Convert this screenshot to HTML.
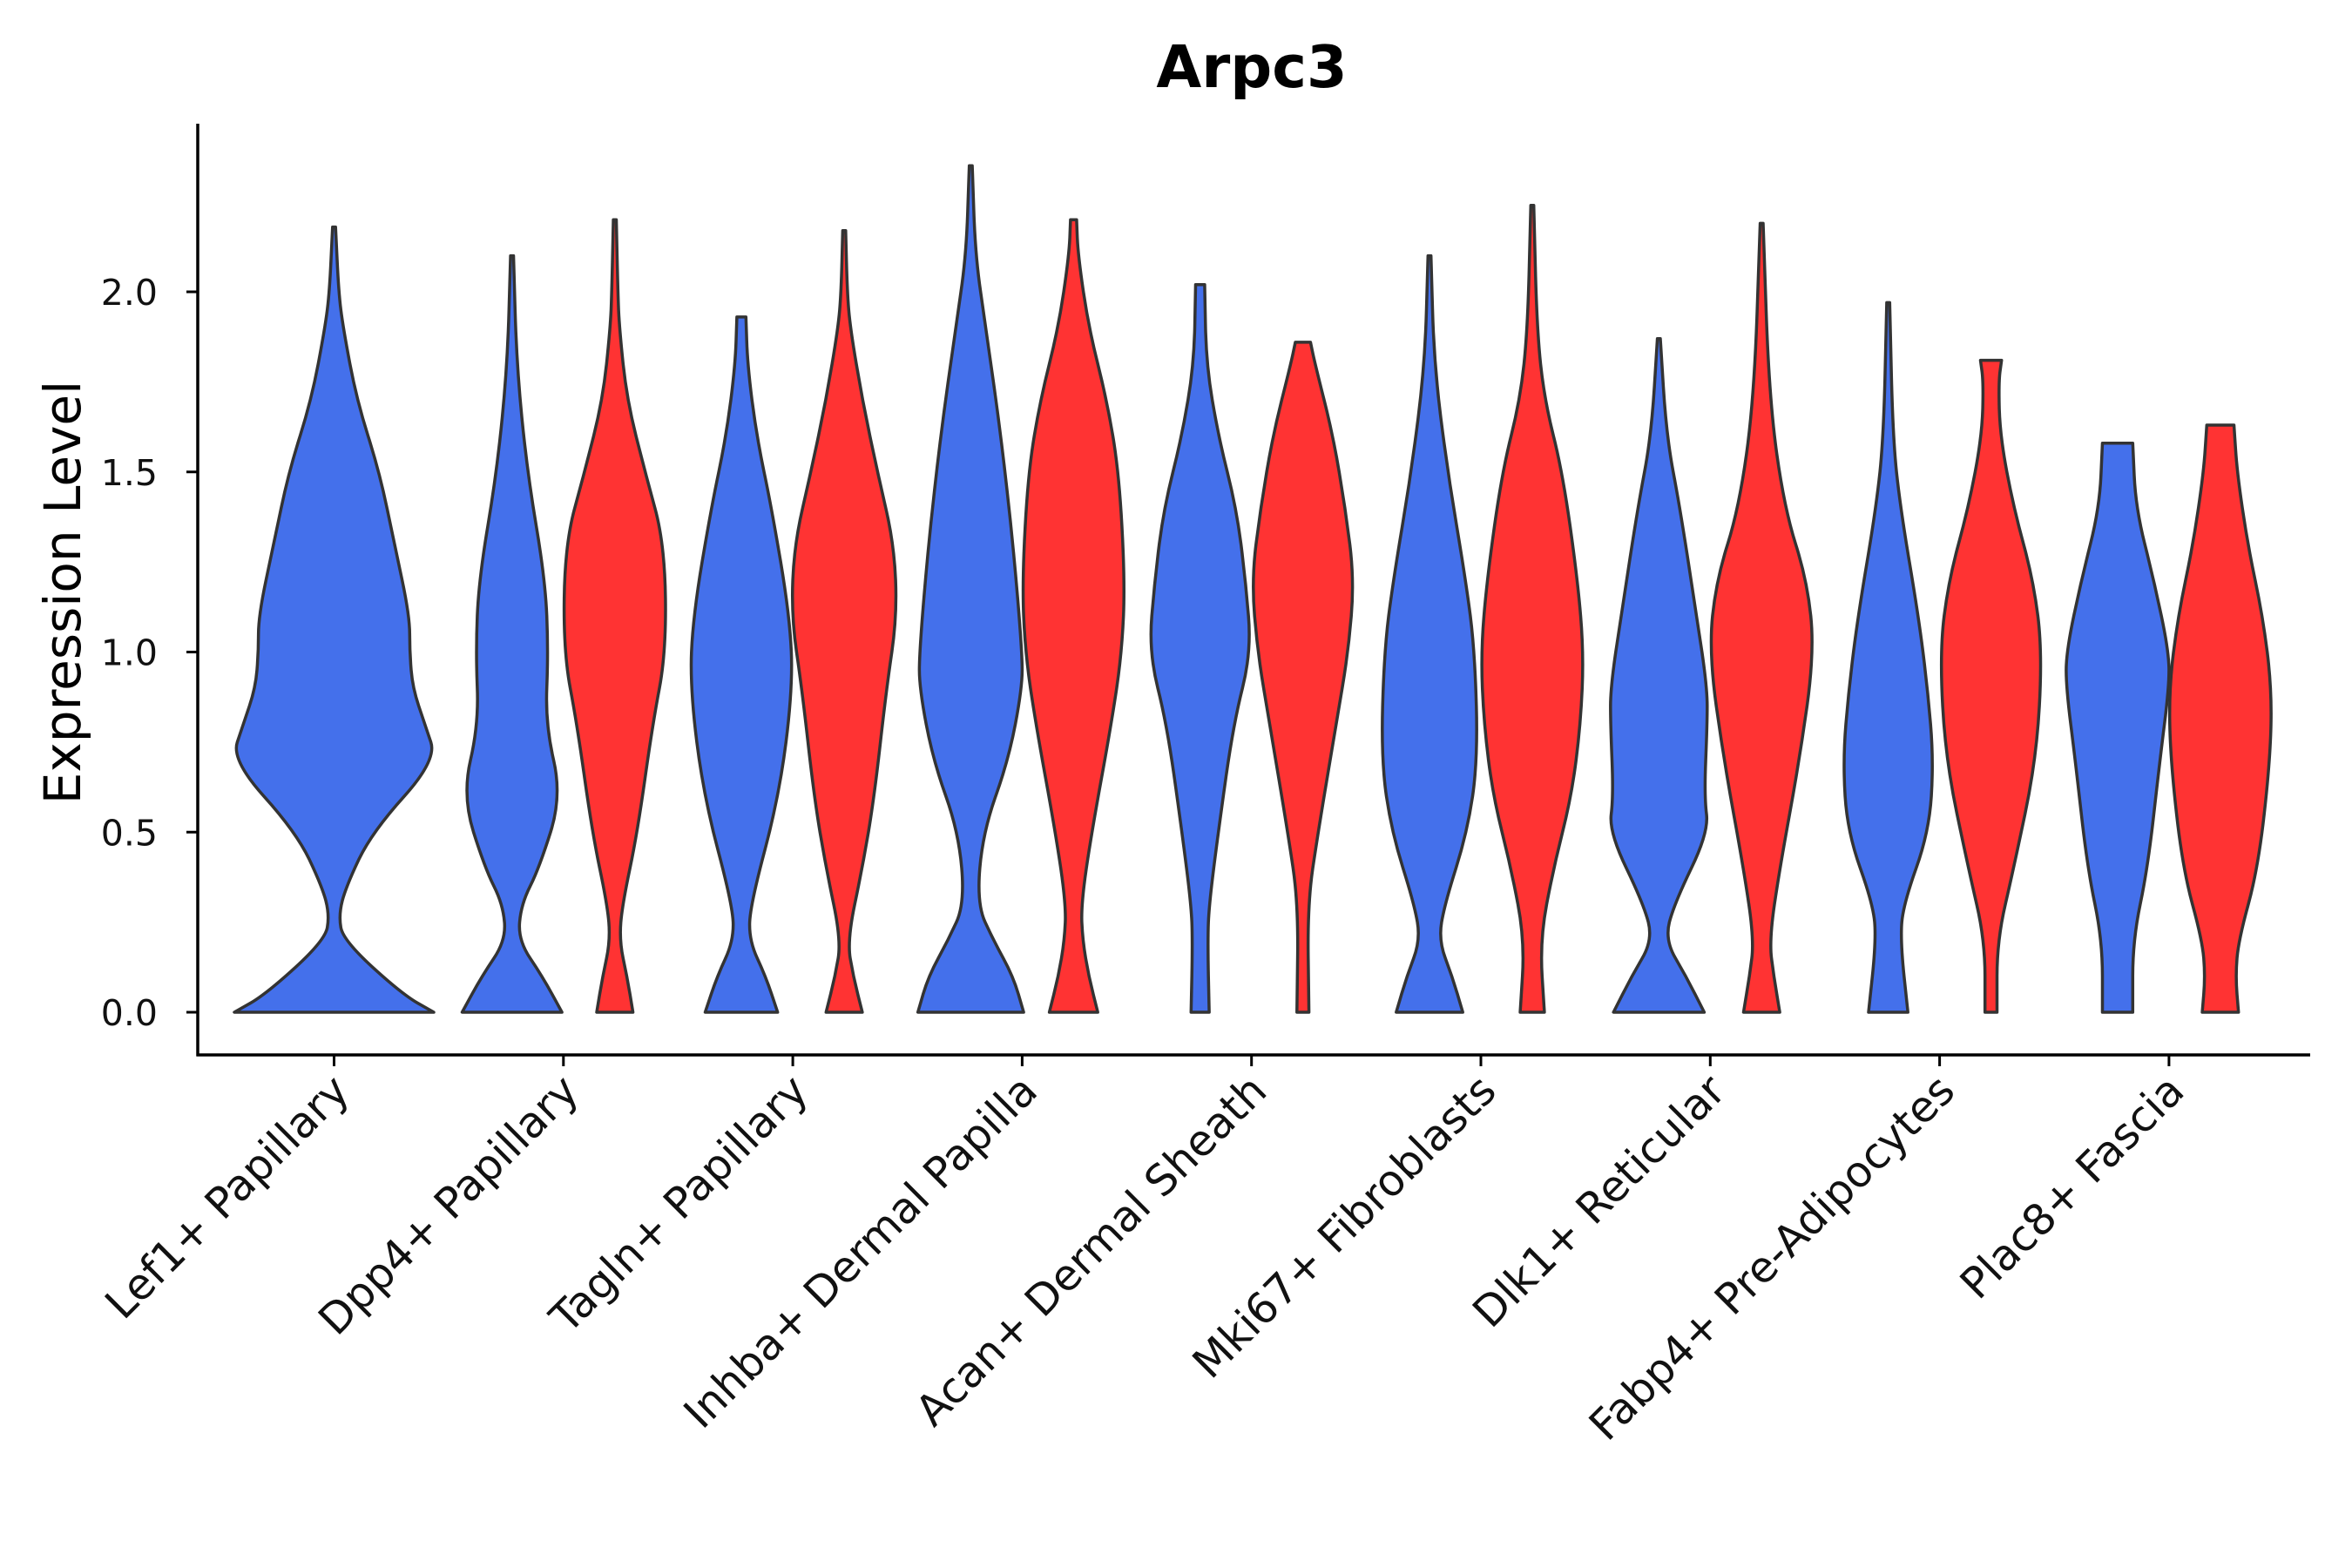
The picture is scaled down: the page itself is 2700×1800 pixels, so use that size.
<!DOCTYPE html>
<html><head><meta charset="utf-8"><style>
html,body{margin:0;padding:0;background:#fff;}
svg{display:block;font-family:"DejaVu Sans","Liberation Sans",sans-serif;}
</style></head><body>
<svg id="chart" width="2700" height="1800" viewBox="0 0 2700 1800" xmlns="http://www.w3.org/2000/svg">
<text x="1437" y="100" text-anchor="middle" font-size="67" font-weight="bold" fill="#000">Arpc3</text>
<text transform="translate(92,680) rotate(-90)" text-anchor="middle" font-size="58" fill="#000">Expression Level</text>
<g id="marks"></g>
<g id="axes"></g>
</svg>
<script>
const categories = ["Lef1+ Papillary","Dpp4+ Papillary","Tagln+ Papillary","Inhba+ Dermal Papilla","Acan+ Dermal Sheath","Mki67+ Fibroblasts","Dlk1+ Reticular","Fabp4+ Pre-Adipocytes","Plac8+ Fascia"];
const yTicks = [0,0.5,1.0,1.5,2.0];
const yTickLabels = ["0.0","0.5","1.0","1.5","2.0"];
// violins: category index, group (0 = blue, 1 = red, -1 = single), max value, profile [value, half-width density]
const violinCats = [0,1,1,2,2,3,3,4,4,5,5,6,6,7,7,8,8];
const violinGroups = [-1,0,1,0,1,0,1,0,1,0,1,0,1,0,1,0,1];
const violinMax = [2.18,2.1,2.2,1.93,2.17,2.35,2.2,2.02,1.86,2.1,2.24,1.87,2.19,1.97,1.81,1.58,1.63];
const violinProfiles = [
 [[0,66],[0.05,45],[0.2,6],[0.27,3],[0.35,8],[0.5,25],[0.7,68],[0.8,60],[0.9,52],[1.0,50],[1.1,50],[1.3,40],[1.5,30],[1.7,15],[1.9,6],[2.0,3],[2.18,1]],
 [[0,33],[0.1,20],[0.2,4],[0.3,6],[0.4,18],[0.6,33],[0.8,22],[1.0,24],[1.2,22],[1.5,10],[1.8,3],[2.1,1]],
 [[0,12],[0.1,8],[0.2,3],[0.3,5],[0.5,15],[0.8,25],[1.0,34],[1.3,33],[1.5,20],[1.7,8],[1.9,3],[2.0,2],[2.2,1]],
 [[0,24],[0.1,16],[0.2,5],[0.3,6],[0.6,25],[0.9,34],[1.1,32],[1.4,20],[1.6,10],[1.8,4],[1.93,3]],
 [[0,12],[0.1,6],[0.2,2],[0.4,12],[0.6,20],[0.9,28],[1.1,35],[1.3,33],[1.5,22],[1.7,12],[1.9,4],[2.0,2],[2.17,1]],
 [[0,35],[0.1,28],[0.2,15],[0.3,4],[0.5,8],[0.7,25],[0.9,34],[1.0,34],[1.3,28],[1.6,20],[1.9,10],[2.1,3],[2.35,1]],
 [[0,16],[0.1,10],[0.2,6],[0.3,5],[0.5,12],[0.8,25],[1.0,32],[1.2,34],[1.5,30],[1.7,22],[1.9,10],[2.1,3],[2.2,2]],
 [[0,6],[0.2,5],[0.3,6],[0.5,12],[0.8,22],[1.0,34],[1.2,30],[1.4,24],[1.6,12],[1.8,4],[2.02,3]],
 [[0,4],[0.3,3],[0.5,10],[0.8,22],[1.0,30],[1.2,34],[1.4,28],[1.6,20],[1.8,8],[1.86,5]],
 [[0,22],[0.1,15],[0.2,6],[0.3,10],[0.5,25],[0.7,32],[1.0,30],[1.2,24],[1.5,12],[1.8,3],[2.1,1]],
 [[0,8],[0.2,5],[0.4,14],[0.6,26],[0.8,32],[1.0,34],[1.2,30],[1.5,20],[1.7,8],[1.9,3],[2.24,1]],
 [[0,30],[0.1,18],[0.2,4],[0.3,10],[0.5,33],[0.6,30],[0.8,32],[0.9,32],[1.1,25],[1.4,14],[1.6,5],[1.87,1]],
 [[0,12],[0.1,8],[0.2,5],[0.4,12],[0.7,25],[1.0,35],[1.2,30],[1.4,15],[1.7,5],[2.19,1]],
 [[0,13],[0.2,8],[0.3,10],[0.5,27],[0.7,30],[0.9,26],[1.1,20],[1.4,8],[1.6,3],[1.97,1]],
 [[0,4],[0.2,4],[0.4,15],[0.7,30],[1.0,34],[1.2,28],[1.4,15],[1.6,6],[1.75,5],[1.81,7]],
 [[0,10],[0.2,10],[0.4,20],[0.7,28],[0.9,34],[1.0,34],[1.2,24],[1.4,12],[1.58,10]],
 [[0,12],[0.1,10],[0.2,12],[0.4,25],[0.7,33],[0.9,34],[1.1,28],[1.3,18],[1.5,11],[1.63,9]]
];
const groupColors = ["#4470EB","#FF3333"];

const S = 1.7352;
const X0 = 227, X1 = 2652, Y0 = 1211, YTOP = 142;
const xScale = i => 383.5 + i * 263.3;
const yScale = v => 1162 - v * 413.5;
const wScale = d => d * S;
const NS = "http://www.w3.org/2000/svg";
const marks = document.getElementById('marks');
const axes = document.getElementById('axes');

function smoothSide(pts){
  let d = "";
  for (let i=1;i<pts.length;i++){
    const p=pts[i-1], q=pts[i];
    const mx=(p[0]+q[0])/2, my=(p[1]+q[1])/2;
    if(i===1) d += " L"+mx.toFixed(1)+","+my.toFixed(1);
    else d += " Q"+p[0].toFixed(1)+","+p[1].toFixed(1)+" "+mx.toFixed(1)+","+my.toFixed(1);
  }
  const l=pts[pts.length-1];
  d += " L"+l[0].toFixed(1)+","+l[1].toFixed(1);
  return d;
}

for (let k=0;k<violinProfiles.length;k++){
  const g = violinGroups[k];
  const cx = xScale(violinCats[k]) + (g<0?0:(g===0?-59:59));
  const prof = violinProfiles[k].slice();
  prof[prof.length-1] = [violinMax[k], prof[prof.length-1][1]];
  const right = prof.map(p=>[cx+wScale(p[1]), yScale(p[0])]);
  const left = prof.slice().reverse().map(p=>[cx-wScale(p[1]), yScale(p[0])]);
  let d = "M"+right[0][0].toFixed(1)+","+right[0][1].toFixed(1)+smoothSide(right);
  d += " L"+left[0][0].toFixed(1)+","+left[0][1].toFixed(1)+smoothSide(left)+" Z";
  const path = document.createElementNS(NS,'path');
  path.setAttribute('d', d);
  path.setAttribute('fill', groupColors[g<0?0:g]);
  path.setAttribute('stroke', '#333');
  path.setAttribute('stroke-width', '3.5');
  path.setAttribute('stroke-linejoin', 'round');
  
  
  marks.appendChild(path);
}

function line(x1,y1,x2,y2,w,name){
  const l=document.createElementNS(NS,'line');
  l.setAttribute('x1',x1);l.setAttribute('y1',y1);l.setAttribute('x2',x2);l.setAttribute('y2',y2);
  l.setAttribute('stroke','#000');l.setAttribute('stroke-width',w);
  
  
  axes.appendChild(l);
}
line(X0, YTOP, X0, Y0+1.5, 3.5, 'y-axis-line');
line(X0-1.5, Y0, X1, Y0, 3.5, 'x-axis-line');

yTicks.forEach((v,i)=>{
  const y=yScale(v);
  line(X0-13, y, X0, y, 3, 'y-tick');
  const t=document.createElementNS(NS,'text');
  t.setAttribute('x', 181); t.setAttribute('y', y+15);
  t.setAttribute('text-anchor','end'); t.setAttribute('font-size','41'); t.setAttribute('fill','#111');
  t.textContent = yTickLabels[i];
  
  
  axes.appendChild(t);
});

categories.forEach((c,i)=>{
  const x=xScale(i);
  line(x, Y0, x, Y0+13, 3, 'x-tick');
  const t=document.createElementNS(NS,'text');
  t.setAttribute('transform','translate('+(x+20)+','+(Y0+44)+') rotate(-45)');
  t.setAttribute('text-anchor','end'); t.setAttribute('font-size','49'); t.setAttribute('fill','#111');
  t.textContent = c;
  
  
  axes.appendChild(t);
});
</script>
</body></html>
